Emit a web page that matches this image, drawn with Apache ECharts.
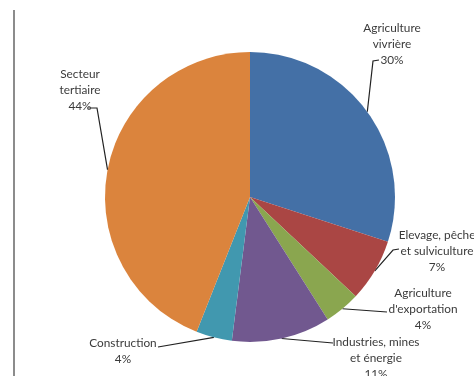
<!DOCTYPE html>
<html>
<head>
<meta charset="utf-8">
<script src="https://cdn.jsdelivr.net/npm/echarts@6/dist/echarts.min.js"></script>
<style>
  html, body { margin: 0; padding: 0; background: #ffffff; }
  #chart { width: 474px; height: 376px; }
</style>
</head>
<body>
<div id="chart"></div>
<script>
// Répartition par secteur (en %)
const categories = [
  'Agriculture\nvivrière',
  'Elevage, pêche\net sulviculture',
  "Agriculture\nd'exportation",
  'Industries, mines\net énergie',
  'Construction',
  'Secteur\ntertiaire'
];
const shares = [30, 7, 4, 11, 4, 44];
const sliceColors = ['#4470a6', '#aa4644', '#8aa64f', '#71588f', '#4198af', '#db843d'];

// Label placement: centre of the text block, end of the leader line, elbow point
const labelPlacement = [
  { at: [392, 44],  end: [379, 60],  elbow: [373, 61] },
  { at: [437, 251], end: [399, 249], elbow: [393, 250] },
  { at: [423, 309], end: [387, 312], elbow: [387, 312] },
  { at: [376, 358], end: [333, 343], elbow: [333, 343] },
  { at: [123, 351], end: [158, 347], elbow: [158, 347] },
  { at: [80, 90],   end: [88, 108],  elbow: [97, 108] }
];

const chart = echarts.init(document.getElementById('chart'), null, { renderer: 'canvas' });

const pieCenter = [250, 197];
const pieRadius = 145;

chart.setOption({
  animation: false,
  backgroundColor: '#ffffff',
  graphic: [{
    type: 'line',
    shape: { x1: 14, y1: 10, x2: 14, y2: 376 },
    style: { stroke: '#8c8c8c', lineWidth: 2 }
  }],
  series: [{
    type: 'pie',
    center: pieCenter,
    radius: pieRadius,
    startAngle: 90,
    clockwise: true,
    avoidLabelOverlap: false,
    data: categories.map((name, i) => ({
      name: name,
      value: shares[i],
      itemStyle: { color: sliceColors[i] }
    })),
    itemStyle: { borderWidth: 0 },
    label: {
      show: true,
      formatter: p => p.name + '\n' + p.value + '%',
      fontFamily: 'Lato',
      fontSize: 11.8,
      lineHeight: 16,
      color: '#3a3a3a',
      align: 'center',
      overflow: 'none'
    },
    labelLine: {
      show: true,
      length: 10,
      length2: 10,
      lineStyle: { color: '#222222', width: 1.2 }
    },
    labelLayout: function (params) {
      const place = labelPlacement[params.dataIndex];
      let start;
      if (params.labelLinePoints && params.labelLinePoints[0]) {
        start = params.labelLinePoints[0];
      } else {
        start = pieCenter;
      }
      return {
        x: place.at[0],
        y: place.at[1],
        align: 'center',
        verticalAlign: 'middle',
        labelLinePoints: [start, place.elbow, place.end]
      };
    }
  }]
});
</script>
</body>
</html>
